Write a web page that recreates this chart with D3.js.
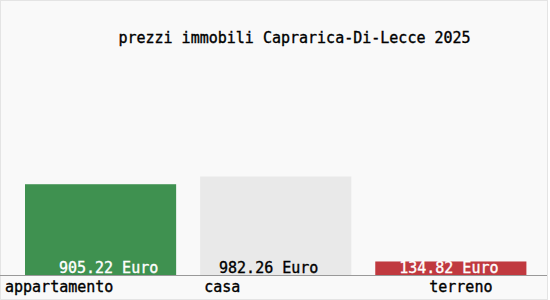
<!DOCTYPE html>
<html lang="it">
<head>
    <meta charset="UTF-8">
    <title>prezzi immobili Caprarica-Di-Lecce 2025</title>
    <script src="https://cdn.jsdelivr.net/npm/d3@7/dist/d3.min.js"></script>
    <style>
        body { margin: 0; background: #fff; }
        text { font-family: "DejaVu Sans Mono", monospace; font-size: 15px; stroke-width: 0.35px; }
    </style>
</head>
<body>
    <div id="chart"></div>
    <script>
        // data
        const title = "prezzi immobili Caprarica-Di-Lecce 2025";
        const categories = ["appartamento", "casa", "terreno"];
        const prices = [905.22, 982.26, 134.82];
        const colors = ["#3f9150", "#e9e9e9", "#c0393f"];
        const labelColors = ["#ffffff", "#000000", "#ffffff"];

        // layout
        const width = 550, height = 300;
        const baseY = 275;
        const valueDx = [8, -7, -2];     // small nudges to match label placement
        const nameDx = [-20, 4, 54];

        const svg = d3.select("#chart")
            .append("svg")
            .attr("width", width)
            .attr("height", height);

        svg.append("rect")
            .attr("x", 0.5).attr("y", 0.5)
            .attr("width", width - 3).attr("height", height - 1)
            .attr("fill", "#f9f9f9")
            .attr("stroke", "#e4e4e4");

        const x = d3.scaleBand()
            .domain(categories)
            .range([25, 526.4])
            .paddingInner(0.137)
            .paddingOuter(0);

        const y = d3.scaleLinear()
            .domain([0, d3.max(prices)])
            .range([baseY, 176.5]);

        svg.append("text")
            .attr("x", 294.5)
            .attr("y", 42.5)
            .attr("text-anchor", "middle")
            .attr("fill", "#000")
            .attr("stroke", "#000")
            .text(title);

        // bars
        svg.append("g")
            .selectAll("rect")
            .data(prices)
            .enter().append("rect")
            .attr("x", (d, i) => x(categories[i]))
            .attr("y", d => y(d))
            .attr("width", x.bandwidth())
            .attr("height", d => baseY - y(d))
            .attr("fill", (d, i) => colors[i]);

        // value labels
        svg.append("g")
            .selectAll("text")
            .data(prices)
            .enter().append("text")
            .attr("x", (d, i) => x(categories[i]) + x.bandwidth() / 2 + valueDx[i])
            .attr("y", 272.5)
            .attr("text-anchor", "middle")
            .attr("fill", (d, i) => labelColors[i])
            .attr("stroke", (d, i) => labelColors[i])
            .text(d => d3.format(".2f")(d) + " Euro");

        // axis line
        svg.append("line")
            .attr("x1", 0).attr("x2", width - 3)
            .attr("y1", baseY + 0.5).attr("y2", baseY + 0.5)
            .attr("stroke", "#999");

        // category labels
        svg.append("g")
            .selectAll("text")
            .data(categories)
            .enter().append("text")
            .attr("x", (d, i) => x(d) + nameDx[i])
            .attr("y", 292)
            .attr("fill", "#000")
            .attr("stroke", "#000")
            .text(d => d);
    </script>
</body>
</html>
